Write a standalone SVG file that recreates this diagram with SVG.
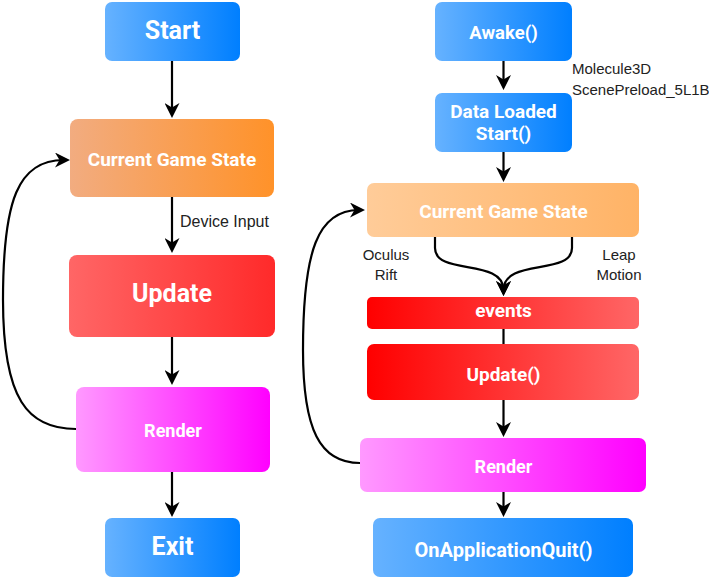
<svg xmlns="http://www.w3.org/2000/svg" width="709" height="579" viewBox="0 0 709 579">
<style>
.t{font-family:Roboto,"Liberation Sans",Arial,sans-serif;font-weight:bold;fill:#ffffff;text-anchor:middle}
.l{font-family:"Liberation Sans",Arial,sans-serif;fill:#222222;font-size:15px}
.c{fill:none;stroke:#000000;stroke-width:2.2}
</style>
<defs>
<linearGradient id="gBlue" x1="0" x2="1" y1="0" y2="0"><stop offset="0" stop-color="#66B2FF"/><stop offset="1" stop-color="#007FFF"/></linearGradient>
<linearGradient id="gOrangeL" x1="0" x2="1" y1="0" y2="0"><stop offset="0" stop-color="#F2AC80"/><stop offset="1" stop-color="#FF9229"/></linearGradient>
<linearGradient id="gOrangeR" x1="0" x2="1" y1="0" y2="0"><stop offset="0" stop-color="#FFCC99"/><stop offset="1" stop-color="#FFB366"/></linearGradient>
<linearGradient id="gRedL" x1="0" x2="1" y1="0" y2="0"><stop offset="0" stop-color="#FF6666"/><stop offset="1" stop-color="#FF2A2A"/></linearGradient>
<linearGradient id="gRedR" x1="0" x2="1" y1="0" y2="0"><stop offset="0" stop-color="#FF0000"/><stop offset="1" stop-color="#FF6666"/></linearGradient>
<linearGradient id="gPink" x1="0" x2="1" y1="0" y2="0"><stop offset="0" stop-color="#FF99FF"/><stop offset="1" stop-color="#FF00FF"/></linearGradient>
<marker id="arr" markerUnits="userSpaceOnUse" markerWidth="15" markerHeight="15" refX="6" refY="5" orient="auto" viewBox="0 0 10 10">
<path d="M0,0 L10,5 L0,10 L3,5 z" fill="#000000"/>
</marker>
</defs>

<g id="connectors">
<path class="c" d="M172,61 L172,112" marker-end="url(#arr)"/>
<path class="c" d="M172,197 L172,247" marker-end="url(#arr)"/>
<path class="c" d="M172,337 L172,379" marker-end="url(#arr)"/>
<path class="c" d="M172,472 L172,511" marker-end="url(#arr)"/>
<path class="c" d="M76,429 C28,429 3,400 3,300 C3,200 18,160 64,160" marker-end="url(#arr)"/>
<path class="c" d="M503.5,61 L503.5,84" marker-end="url(#arr)"/>
<path class="c" d="M503.5,152 L503.5,176" marker-end="url(#arr)"/>
<path class="c" d="M435,237 L435,248 C435,276 503.5,258 503.5,290" marker-end="url(#arr)"/>
<path class="c" d="M572,237 L572,248 C572,276 503.5,258 503.5,290" marker-end="url(#arr)"/>
<path class="c" d="M503.5,329 L503.5,344"/>
<path class="c" d="M503.5,400 L503.5,431" marker-end="url(#arr)"/>
<path class="c" d="M503.5,492 L503.5,511" marker-end="url(#arr)"/>
<path class="c" d="M360,463 C320,463 303,430 303,350 C303,250 318,210 359,210" marker-end="url(#arr)"/>
<text class="l" x="180" y="227" style="font-size:16px">Device Input</text>
<text class="l" x="572" y="74">Molecule3D</text>
<text class="l" x="572" y="95">ScenePreload_5L1B</text>
<text class="l" x="386" y="260" text-anchor="middle">Oculus</text>
<text class="l" x="386" y="280" text-anchor="middle">Rift</text>
<text class="l" x="619" y="260" text-anchor="middle">Leap</text>
<text class="l" x="619" y="280" text-anchor="middle">Motion</text>
</g>

<g id="start"><rect x="105" y="2" width="135" height="59" rx="7" fill="url(#gBlue)"/><text class="t" x="172.5" y="39" font-size="25">Start</text></g>
<g id="state-left"><rect x="70" y="119" width="204" height="78" rx="8" fill="url(#gOrangeL)"/><text class="t" x="172" y="166" font-size="19">Current Game State</text></g>
<g id="update-left"><rect x="69" y="255" width="206" height="82" rx="8" fill="url(#gRedL)"/><text class="t" x="172" y="302" font-size="25">Update</text></g>
<g id="render-left"><rect x="76" y="387" width="194" height="85" rx="8" fill="url(#gPink)"/><text class="t" x="173" y="437" font-size="18">Render</text></g>
<g id="exit"><rect x="105" y="518" width="135" height="59" rx="7" fill="url(#gBlue)"/><text class="t" x="172.5" y="555" font-size="25">Exit</text></g>

<g id="awake"><rect x="435" y="2" width="137" height="59" rx="7" fill="url(#gBlue)"/><text class="t" x="503.5" y="39" font-size="18.5">Awake()</text></g>
<g id="data-loaded"><rect x="435" y="93" width="137" height="59" rx="7" fill="url(#gBlue)"/><text class="t" x="503.5" y="118" font-size="19">Data Loaded</text><text class="t" x="503.5" y="140" font-size="19">Start()</text></g>
<g id="state-right"><rect x="367" y="183" width="272" height="54" rx="7" fill="url(#gOrangeR)"/><text class="t" x="503.5" y="218" font-size="19">Current Game State</text></g>
<g id="events"><rect x="367" y="297" width="272" height="32" rx="5" fill="url(#gRedR)"/><text class="t" x="503.5" y="317" font-size="19">events</text></g>
<g id="update-right"><rect x="367" y="344" width="272" height="56" rx="7" fill="url(#gRedR)"/><text class="t" x="503.5" y="381" font-size="19">Update()</text></g>
<g id="render-right"><rect x="360" y="438" width="286" height="54" rx="7" fill="url(#gPink)"/><text class="t" x="503.5" y="473" font-size="18">Render</text></g>
<g id="quit"><rect x="373" y="518" width="260" height="59" rx="7" fill="url(#gBlue)"/><text class="t" x="503.5" y="557" font-size="20">OnApplicationQuit()</text></g>
</svg>
